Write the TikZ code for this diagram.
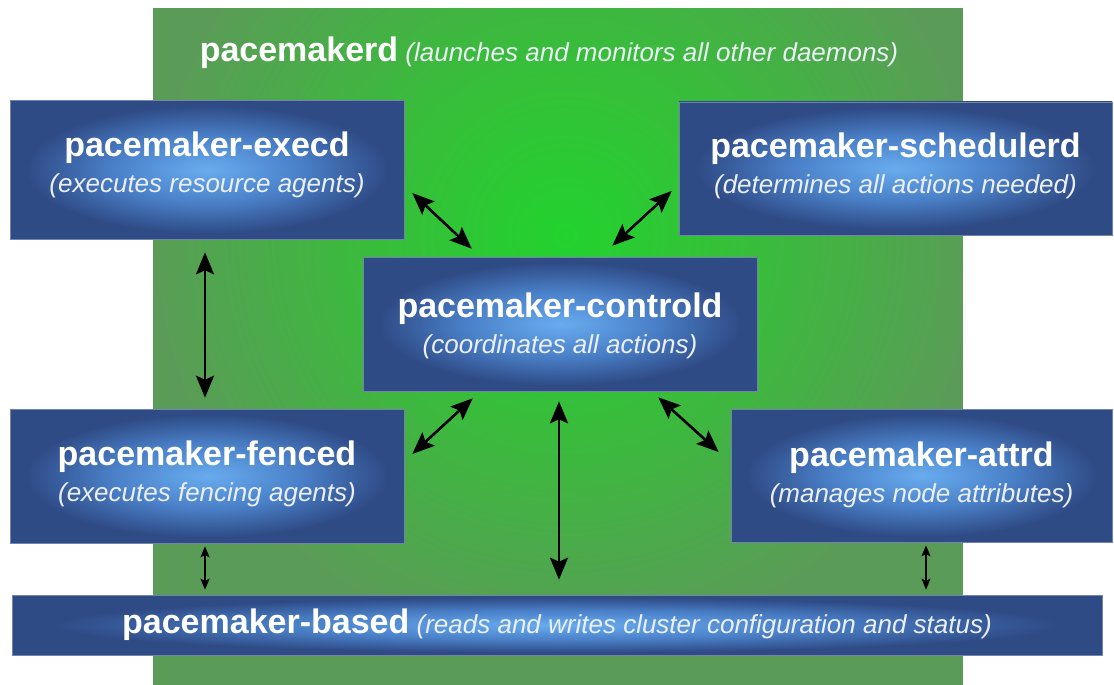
\documentclass[tikz,border=0pt]{standalone}
\usepackage{fontspec}
\setmainfont{Liberation Sans}
\usetikzlibrary{arrows.meta,calc}
\definecolor{gdark}{HTML}{5B9B58}
\definecolor{gbright}{HTML}{22D22E}
\definecolor{gmid}{HTML}{3ABB3C}
\definecolor{bdark}{HTML}{2F4B86}
\definecolor{bmid}{HTML}{4A80C8}
\definecolor{blight}{HTML}{68ACEE}
\definecolor{bedge}{HTML}{7283AC}
\definecolor{subtxt}{HTML}{ECEFF6}
\pgfdeclareradialshading{boxshade}{\pgfpoint{0bp}{0bp}}{color(0bp)=(blight); color(12bp)=(bmid); color(23bp)=(bdark); color(50bp)=(bdark)}
\pgfdeclareradialshading{greenshade}{\pgfpoint{0bp}{0bp}}{color(0bp)=(gbright); color(12bp)=(gmid); color(25bp)=(gdark); color(50bp)=(gdark)}
\newcommand{\dtitle}[1]{{\fontsize{34}{36}\selectfont\bfseries #1}}
\newcommand{\dsub}[1]{{\fontsize{26}{36}\selectfont\itshape\color{subtxt}#1}}
\tikzset{
  daemon/.style={draw=bedge, line width=0.6pt, shade, shading=boxshade,
    text=white, align=center, inner sep=0pt,
    font=\fontsize{26}{36}\selectfont, text height=58pt, text depth=8pt},
  bigarr/.style={line width=2.6pt, black, {Stealth[length=22pt,width=18pt,inset=4pt]}-{Stealth[length=22pt,width=18pt,inset=4pt]}},
  smallarr/.style={line width=1.3pt, black, {Stealth[length=11pt,width=9pt,inset=2pt]}-{Stealth[length=11pt,width=9pt,inset=2pt]}}
}
\begin{document}
\begin{tikzpicture}[x=1pt,y=-1pt]
\useasboundingbox (0,0) rectangle (1114,685);
\fill[white] (0,0) rectangle (1114,685);
% pacemakerd area
\node[minimum width=810pt, minimum height=677pt, fill=gdark, inner sep=0pt] (pacemakerd) at (558,346.5) {};
\begin{scope}
  \clip ($(pacemakerd.north west)+(0.8,0.8)$) rectangle ($(pacemakerd.south east)+(-0.8,-0.8)$);
  \shade[shading=greenshade] (565,235) circle (420pt);
\end{scope}
\node[anchor=base, text=white, inner sep=0pt, font=\fontsize{26}{36}\selectfont] (pdtitle) at (549,62)
  {\dtitle{pacemakerd} \dsub{(launches and monitors all other daemons)}};
% daemons
\node[daemon, minimum width=394pt, minimum height=139pt, text height=54pt] (execd) at (207,169.5)
  {\dtitle{pacemaker-execd}\\\dsub{(executes resource agents)}};
\node[daemon, minimum width=433pt, minimum height=133pt] (schedulerd) at (895.5,168.3)
  {\dtitle{pacemaker-schedulerd}\\\dsub{(determines all actions needed)}};
\node[daemon, minimum width=394pt, minimum height=134pt, text height=62pt, text depth=4pt] (controld) at (560,324)
  {\dtitle{pacemaker-controld}\\\dsub{(coordinates all actions)}};
\node[daemon, minimum width=394pt, minimum height=134pt] (fenced) at (207,476)
  {\dtitle{pacemaker-fenced}\\\dsub{(executes fencing agents)}};
\node[daemon, minimum width=381pt, minimum height=133pt, text height=60pt, text depth=7pt] (attrd) at (921.5,475.5)
  {\dtitle{pacemaker-attrd}\\\dsub{(manages node attributes)}};
\node[daemon, minimum width=1090pt, minimum height=60pt, text height=24pt, text depth=8pt] (based) at (557,625)
  {\dtitle{pacemaker-based} \dsub{(reads and writes cluster configuration and status)}};
% connectors
\draw[bigarr] ($(execd.east)+(8,23.5)$) -- ($(controld.north west)+(109,-8)$);
\draw[bigarr] ($(schedulerd.west)+(-7,22.7)$) -- ($(controld.north east)+(-145,-11)$);
\draw[bigarr] ($(execd.south)+(-2,13)$) -- ($(fenced.north)+(-2,-11)$);
\draw[bigarr] ($(fenced.east)+(8,-22)$) -- ($(controld.south west)+(110,7)$);
\draw[bigarr] ($(controld.south)+(-1,10)$) -- ($(based.north)+(2,-15)$);
\draw[bigarr] ($(controld.south east)+(-99,6)$) -- ($(attrd.west)+(-12,-23.5)$);
\draw[smallarr] ($(fenced.south)+(-2,3)$) -- ($(fenced.south |- based.north)+(-2,-5)$);
\draw[smallarr] ($(attrd.south)+(4.5,3)$) -- ($(attrd.south |- based.north)+(4.5,-5)$);
\end{tikzpicture}
\end{document}
